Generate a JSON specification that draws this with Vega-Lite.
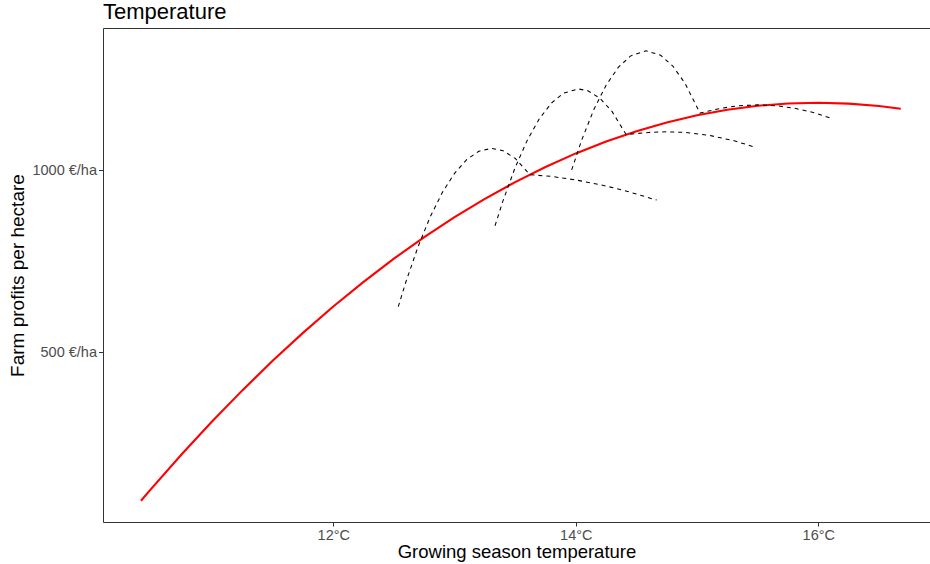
{
  "$schema": "https://vega.github.io/schema/vega-lite/v6.json",
  "autosize": {"type": "none"},
  "padding": {"left": 103, "top": 28, "right": 0, "bottom": 42},
  "width": 827,
  "height": 494,
  "background": "white",
  "config": {
    "font": "Liberation Sans",
    "view": {"stroke": null},
    "axis": {"grid": false}
  },
  "title": {
    "text": "Temperature",
    "anchor": "start",
    "frame": "group",
    "fontSize": 22,
    "fontWeight": "normal",
    "color": "black",
    "baseline": "alphabetic",
    "offset": 8,
    "dy": 21
  },
  "datasets": {
    "longrun": [
      {"T": 10.414, "P": 90.8}, {"T": 10.5, "P": 124.1}, {"T": 10.75, "P": 218.6},
      {"T": 11.0, "P": 308.8}, {"T": 11.25, "P": 394.4}, {"T": 11.5, "P": 475.8},
      {"T": 11.75, "P": 552.6}, {"T": 12.0, "P": 625.1}, {"T": 12.25, "P": 693.1},
      {"T": 12.5, "P": 756.9}, {"T": 12.75, "P": 816.1}, {"T": 13.0, "P": 871.0},
      {"T": 13.25, "P": 921.4}, {"T": 13.5, "P": 967.6}, {"T": 13.75, "P": 1009.1},
      {"T": 14.0, "P": 1046.5}, {"T": 14.25, "P": 1079.3}, {"T": 14.5, "P": 1107.8},
      {"T": 14.75, "P": 1131.8}, {"T": 15.0, "P": 1151.5}, {"T": 15.25, "P": 1166.7},
      {"T": 15.5, "P": 1177.5}, {"T": 15.75, "P": 1184.0}, {"T": 16.0, "P": 1186.0},
      {"T": 16.25, "P": 1183.6}, {"T": 16.5, "P": 1176.8}, {"T": 16.68, "P": 1169.2}
    ],
    "shortrun": [
      {"s": "c1", "T": 12.536, "P": 624.7}, {"s": "c1", "T": 12.6, "P": 694.1},
      {"s": "c1", "T": 12.7, "P": 790.6}, {"s": "c1", "T": 12.8, "P": 872.3},
      {"s": "c1", "T": 12.9, "P": 939.3}, {"s": "c1", "T": 13.0, "P": 991.7},
      {"s": "c1", "T": 13.1, "P": 1029.3}, {"s": "c1", "T": 13.2, "P": 1052.2},
      {"s": "c1", "T": 13.306, "P": 1060.5}, {"s": "c1", "T": 13.4, "P": 1054.0},
      {"s": "c1", "T": 13.5, "P": 1032.8}, {"s": "c1", "T": 13.622, "P": 988.0},
      {"s": "c1", "T": 13.8, "P": 983.1}, {"s": "c1", "T": 14.0, "P": 973.5},
      {"s": "c1", "T": 14.2, "P": 960.6}, {"s": "c1", "T": 14.4, "P": 944.5},
      {"s": "c1", "T": 14.667, "P": 918.0},
      {"s": "c2", "T": 13.334, "P": 847.5}, {"s": "c2", "T": 13.4, "P": 916.5},
      {"s": "c2", "T": 13.5, "P": 1007.7}, {"s": "c2", "T": 13.6, "P": 1082.9},
      {"s": "c2", "T": 13.7, "P": 1142.1}, {"s": "c2", "T": 13.8, "P": 1185.3},
      {"s": "c2", "T": 13.9, "P": 1212.5}, {"s": "c2", "T": 14.02, "P": 1224.0},
      {"s": "c2", "T": 14.1, "P": 1218.9}, {"s": "c2", "T": 14.2, "P": 1198.1},
      {"s": "c2", "T": 14.3, "P": 1161.3}, {"s": "c2", "T": 14.415, "P": 1098.5},
      {"s": "c2", "T": 14.6, "P": 1104.2}, {"s": "c2", "T": 14.75, "P": 1106.0},
      {"s": "c2", "T": 14.9, "P": 1104.2}, {"s": "c2", "T": 15.1, "P": 1096.2},
      {"s": "c2", "T": 15.3, "P": 1081.8}, {"s": "c2", "T": 15.478, "P": 1063.6},
      {"s": "c3", "T": 13.966, "P": 1001.0}, {"s": "c3", "T": 14.05, "P": 1084.6},
      {"s": "c3", "T": 14.15, "P": 1168.1}, {"s": "c3", "T": 14.25, "P": 1234.3},
      {"s": "c3", "T": 14.35, "P": 1283.0}, {"s": "c3", "T": 14.45, "P": 1314.3},
      {"s": "c3", "T": 14.58, "P": 1329.0}, {"s": "c3", "T": 14.7, "P": 1316.5},
      {"s": "c3", "T": 14.8, "P": 1286.9}, {"s": "c3", "T": 14.9, "P": 1239.9},
      {"s": "c3", "T": 15.024, "P": 1157.5}, {"s": "c3", "T": 15.2, "P": 1171.0},
      {"s": "c3", "T": 15.35, "P": 1177.8}, {"s": "c3", "T": 15.5, "P": 1180.0},
      {"s": "c3", "T": 15.65, "P": 1177.8}, {"s": "c3", "T": 15.8, "P": 1171.0},
      {"s": "c3", "T": 15.95, "P": 1159.8}, {"s": "c3", "T": 16.096, "P": 1144.5}
    ]
  },
  "resolve": {"axis": {"x": "independent"}},
  "layer": [
    {
      "data": {"name": "longrun"},
      "mark": {"type": "line", "color": "#ff0000", "strokeWidth": 2.1, "interpolate": "linear"},
      "encoding": {
        "x": {
          "field": "T", "type": "quantitative",
          "scale": {"domain": [10.101, 16.921], "nice": false, "zero": false},
          "axis": {
            "orient": "bottom",
            "values": [12, 14, 16],
            "labelExpr": "datum.value + '°C'",
            "title": "Growing season temperature",
            "titleFontSize": 18.5,
            "titleFontWeight": "normal",
            "titleColor": "black",
            "titlePadding": 1,
            "labelFontSize": 14.5,
            "labelColor": "#4d4d4d",
            "labelPadding": 2,
            "tickSize": 4,
            "tickColor": "#333333",
            "domainColor": "#333333",
            "domainWidth": 1
          }
        },
        "y": {
          "field": "P", "type": "quantitative",
          "scale": {"domain": [32.2, 1391.6], "nice": false, "zero": false},
          "axis": {
            "values": [500, 1000],
            "labelExpr": "datum.value + ' €/ha'",
            "title": "Farm profits per hectare",
            "titleFontSize": 19,
            "titleFontWeight": "normal",
            "titleColor": "black",
            "titlePadding": 4,
            "labelFontSize": 14.5,
            "labelColor": "#4d4d4d",
            "labelPadding": 2,
            "tickSize": 4.5,
            "tickColor": "#333333",
            "domainColor": "#333333",
            "domainWidth": 1
          }
        }
      }
    },
    {
      "data": {"name": "shortrun"},
      "mark": {"type": "line", "color": "black", "strokeWidth": 1.05, "strokeDash": [4, 4], "interpolate": "linear"},
      "encoding": {
        "x": {
          "field": "T", "type": "quantitative",
          "scale": {"domain": [10.101, 16.921], "nice": false, "zero": false},
          "axis": {
            "orient": "top",
            "labels": false,
            "ticks": false,
            "title": null,
            "domainColor": "#333333",
            "domainWidth": 1
          }
        },
        "y": {"field": "P", "type": "quantitative"},
        "detail": {"field": "s", "type": "nominal"}
      }
    }
  ]
}
